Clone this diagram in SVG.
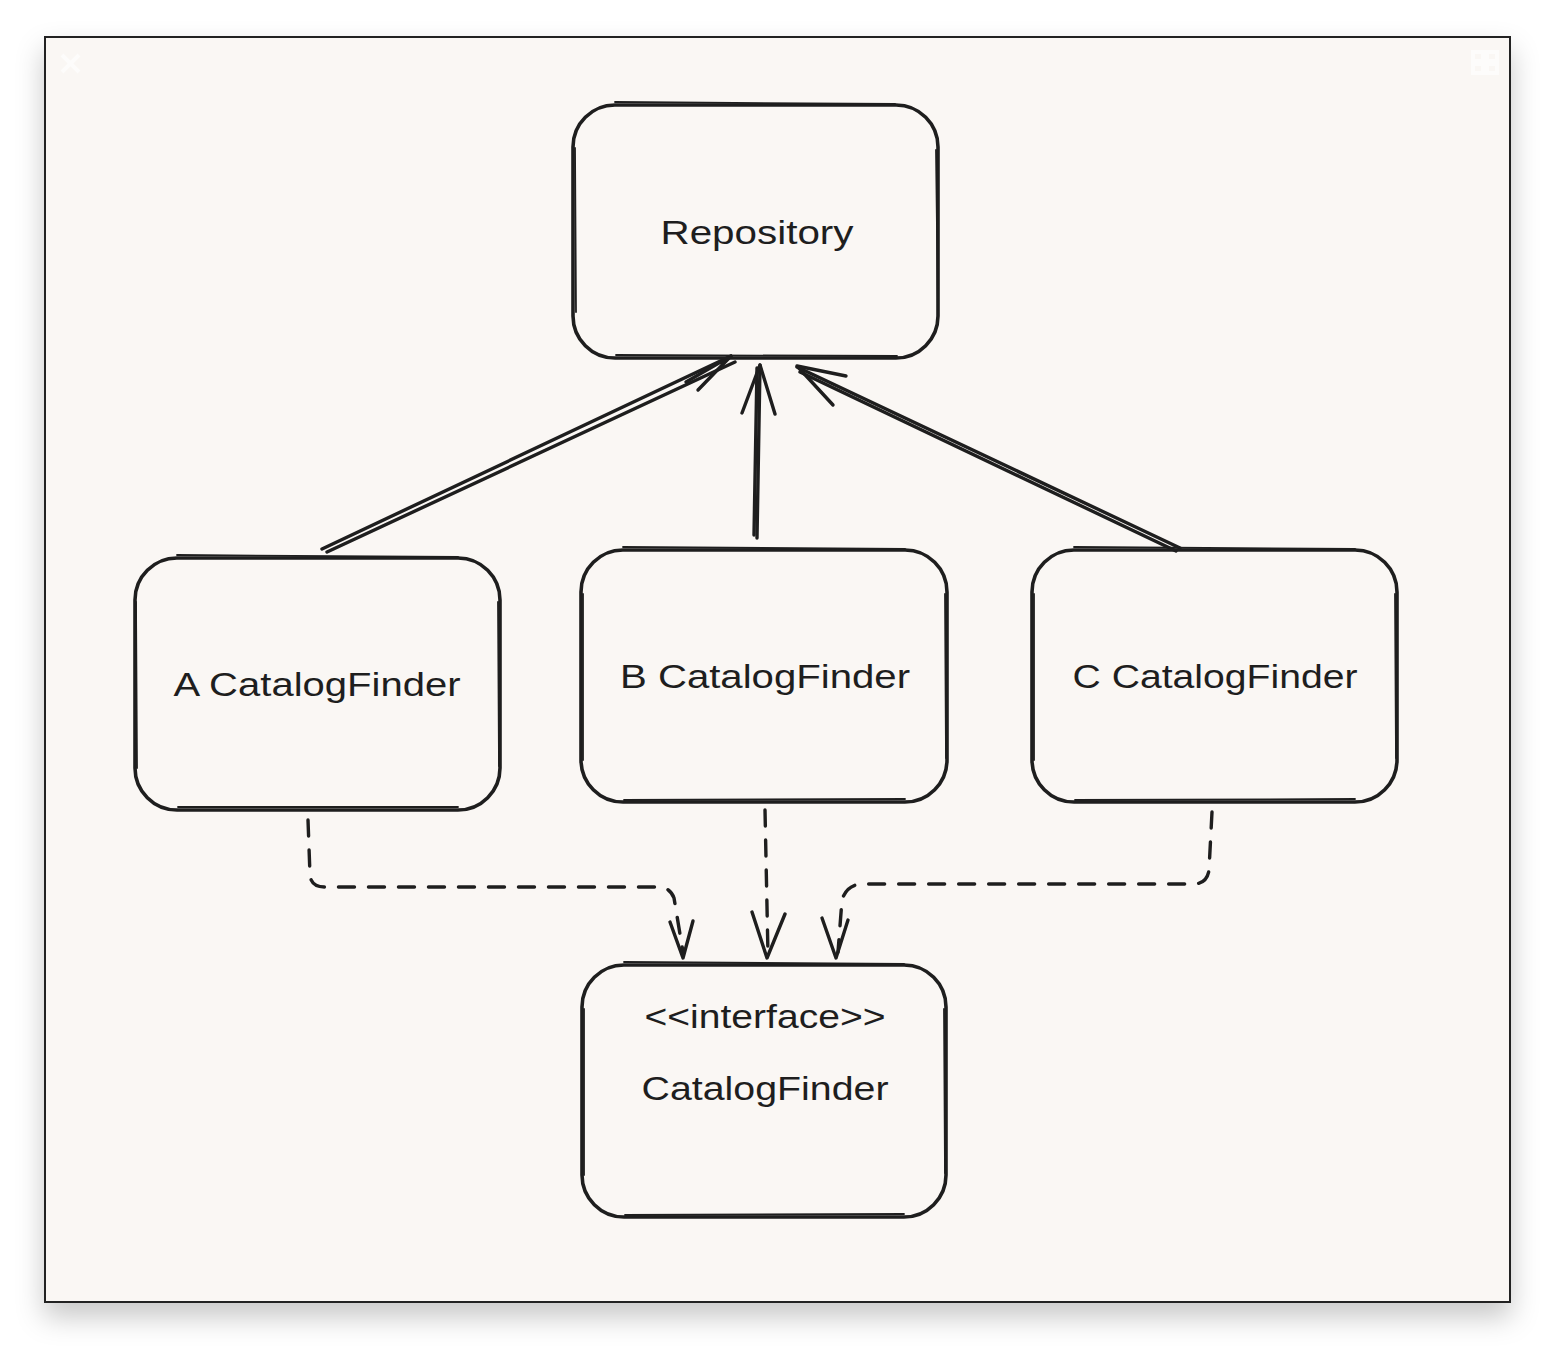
<svg xmlns="http://www.w3.org/2000/svg" width="1556" height="1356" viewBox="0 0 1556 1356">
<defs>
<filter id="sh" x="-10%" y="-10%" width="120%" height="125%">
<feDropShadow dx="0" dy="14" stdDeviation="14" flood-color="#000" flood-opacity="0.22"/>
</filter>
<style>
.box{fill:none;stroke:#1e1e1e;stroke-width:3.6;stroke-linecap:round;stroke-linejoin:round}
.box2{fill:none;stroke:#1e1e1e;stroke-width:1.8;stroke-linecap:round}
.lbl{font-family:"Liberation Sans","DejaVu Sans",sans-serif;font-size:34px;fill:#1e1e1e;text-anchor:middle}
.ln{fill:none;stroke:#1e1e1e;stroke-width:3.4;stroke-linecap:round;stroke-linejoin:round}
.dash{fill:none;stroke:#1e1e1e;stroke-width:3.4;stroke-linecap:round;stroke-dasharray:16 14}
</style>
</defs>
<rect width="1556" height="1356" fill="#ffffff"/>
<rect x="45" y="37" width="1465" height="1265" fill="#faf7f4" stroke="#222" stroke-width="2" filter="url(#sh)"/>
<g id="window-icons" stroke="#fdfcfb" stroke-width="4" fill="none">
<path d="M62 55 L79 72 M79 55 L62 72"/>
<rect x="1473" y="52" width="10" height="9"/><rect x="1487" y="52" width="10" height="9"/>
<rect x="1473" y="64" width="10" height="9"/><rect x="1487" y="64" width="10" height="9"/>
</g>
<g id="connectors">
<path class="ln" d="M322 549 L731 356"/>
<path class="ln" d="M327 552 L735 362" stroke-width="2.2"/>
<path class="ln" d="M686 382 L731 356 L698 390"/>
<path class="ln" d="M757 538 L760 365"/>
<path class="ln" d="M754 535 L757 368" stroke-width="2.2"/>
<path class="ln" d="M742 413 L760 365 L775 414"/>
<path class="ln" d="M1180 548 L797 367"/>
<path class="ln" d="M1176 551 L800 372" stroke-width="2.2"/>
<path class="ln" d="M846 376 L797 366 L833 405"/>
<path class="dash" d="M308 820 L310 875 Q311 887 325 887 L658 887 Q670 887 674 898 L683 952"/>
<path class="ln" d="M670 922 L683 958 L693 921"/>
<path class="dash" d="M765 810 L768 955"/>
<path class="ln" d="M752 912 L767 958 L785 914"/>
<path class="dash" d="M1212 812 L1209 870 Q1207 884 1193 884 L860 884 Q846 886 842 900 L838 952"/>
<path class="ln" d="M822 918 L836 958 L848 920"/>
</g>
<g id="node-repository">
<rect class="box" x="573" y="105" width="365" height="253" rx="42"/>
<path class="box2" d="M615 102 L895 104 M936 150 L938 310 M897 356 L616 355 M576 312 L575 148"/>
<text class="lbl" x="757" y="244" textLength="193" lengthAdjust="spacingAndGlyphs">Repository</text>
</g>
<g id="node-a">
<rect class="box" x="135" y="558" width="365" height="252" rx="42"/>
<path class="box2" d="M177 555 L458 557 M498 602 L499 766 M458 807 L178 807 M137 768 L136 602"/>
<text class="lbl" x="317" y="696" textLength="287" lengthAdjust="spacingAndGlyphs">A CatalogFinder</text>
</g>
<g id="node-b">
<rect class="box" x="581" y="550" width="366" height="252" rx="42"/>
<path class="box2" d="M623 547 L905 549 M945 594 L946 758 M905 799 L624 800 M583 760 L583 594"/>
<text class="lbl" x="765" y="688" textLength="290" lengthAdjust="spacingAndGlyphs">B CatalogFinder</text>
</g>
<g id="node-c">
<rect class="box" x="1032" y="550" width="365" height="252" rx="42"/>
<path class="box2" d="M1074 547 L1355 549 M1395 594 L1396 758 M1355 799 L1075 800 M1034 760 L1034 594"/>
<text class="lbl" x="1215" y="688" textLength="285" lengthAdjust="spacingAndGlyphs">C CatalogFinder</text>
</g>
<g id="node-interface">
<rect class="box" x="582" y="965" width="364" height="252" rx="42"/>
<path class="box2" d="M624 962 L904 964 M944 1009 L945 1173 M904 1214 L625 1215 M584 1175 L584 1009"/>
<text class="lbl" x="765" y="1028" textLength="241" lengthAdjust="spacingAndGlyphs">&lt;&lt;interface&gt;&gt;</text>
<text class="lbl" x="765" y="1100" textLength="247" lengthAdjust="spacingAndGlyphs">CatalogFinder</text>
</g>
</svg>
